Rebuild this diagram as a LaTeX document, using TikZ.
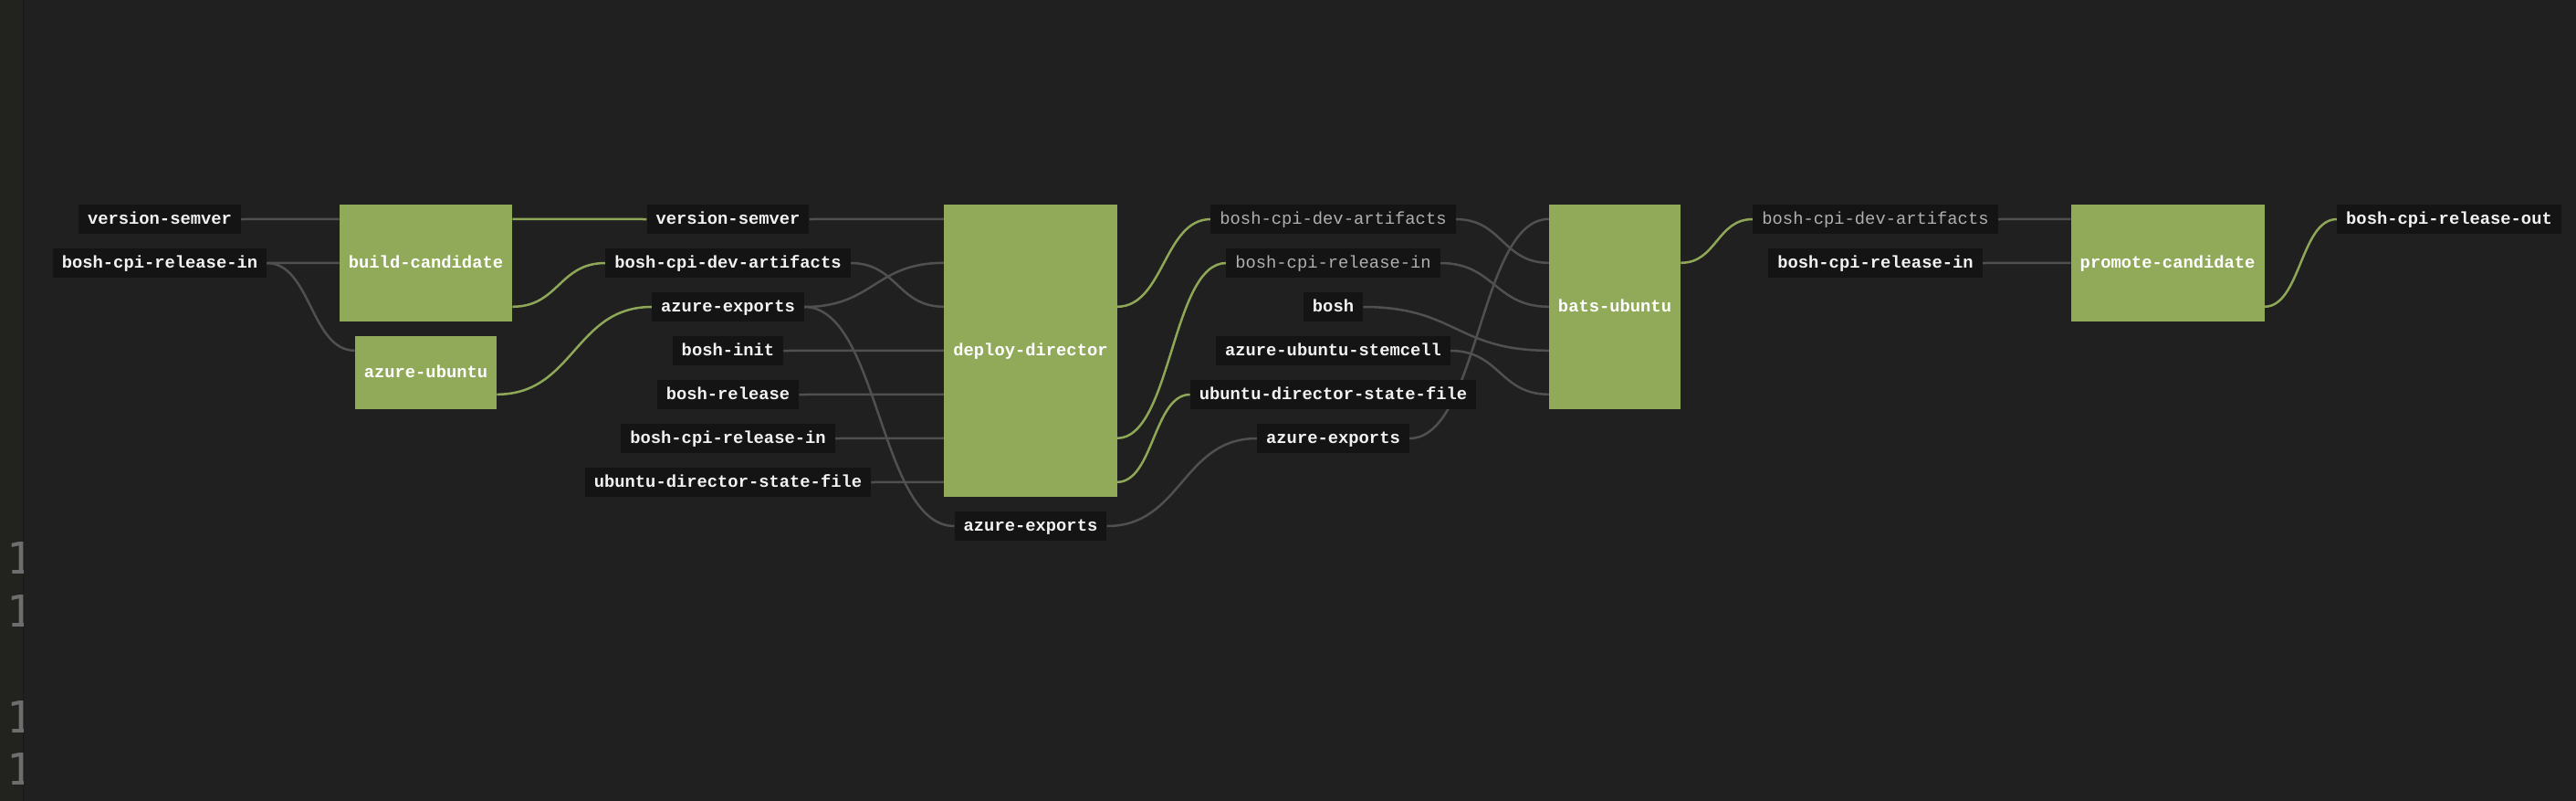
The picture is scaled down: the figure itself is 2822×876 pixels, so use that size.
\documentclass[tikz,border=0pt]{standalone}
\usepackage{fontspec}
\newfontfamily\lmono{Liberation Mono}
\newfontfamily\djmono{DejaVu Sans Mono}
\usetikzlibrary{backgrounds,calc}
\definecolor{bg}{HTML}{202020}
\definecolor{side}{HTML}{22221E}
\definecolor{sideline}{HTML}{1A1A18}
\definecolor{lblfill}{HTML}{141414}
\definecolor{jobfill}{HTML}{91AA5A}
\definecolor{greenline}{HTML}{8FA858}
\definecolor{grayline}{HTML}{505050}
\definecolor{graytext}{HTML}{B0B0B0}
\definecolor{labeltext}{HTML}{F2F2F2}
\definecolor{numcol}{HTML}{6E6E6E}
\newcommand\flow[3]{\draw[#1] let \p1=#2, \p2=#3, \n1={(\x2-\x1)/2} in (\p1) .. controls +(\n1,0) and +(-\n1,0) .. (\p2);}
\begin{document}
\begin{tikzpicture}[x=1pt,y=-1pt,
  res/.style={fill=lblfill, text=labeltext, font=\lmono\bfseries\fontsize{18.8}{20}\selectfont,
    inner xsep=10pt, inner ysep=0pt, minimum height=32pt, text height=10pt, text depth=0pt},
  resdim/.style={res, text=graytext, font=\lmono\fontsize{18.8}{20}\selectfont},
  job/.style={fill=jobfill, text=white, font=\lmono\bfseries\fontsize{18.8}{20}\selectfont,
    inner xsep=10pt, inner ysep=0pt, text height=10pt, text depth=0pt},
  num/.style={text=numcol, font=\djmono\fontsize{48}{50}\selectfont, inner sep=0pt, anchor=base west},
  gedge/.style={draw=grayline, line width=2.5pt},
  oedge/.style={draw=greenline, line width=2.5pt},
]
\useasboundingbox (0,0) rectangle (2822,876);

% jobs
\node[job, minimum height=128pt] (build) at (466.5,288) {build-candidate};
\node[job, minimum height=80pt] (au) at (466.5,408) {azure-ubuntu};
\node[job, minimum height=320pt] (dd) at (1129,384) {deploy-director};
\node[job, minimum height=224pt] (bats) at (1769,336) {bats-ubuntu};
\node[job, minimum height=128pt] (pc) at (2374.6,288) {promote-candidate};

% resources column 1
\node[res] (l1vs) at (175,240) {version-semver};
\node[res] (l1rel) at (175,288) {bosh-cpi-release-in};
% column 2
\node[res] (mvs) at (797.5,240) {version-semver};
\node[res] (mdev) at (797.5,288) {bosh-cpi-dev-artifacts};
\node[res] (mae) at (797.5,336) {azure-exports};
\node[res] (minit) at (797.5,384) {bosh-init};
\node[res] (mbrel) at (797.5,432) {bosh-release};
\node[res] (mrel) at (797.5,480) {bosh-cpi-release-in};
\node[res] (mudsf) at (797.5,528) {ubuntu-director-state-file};
\node[res] (bae) at (1129,576) {azure-exports};
% column 4
\node[resdim] (cdev) at (1460.5,240) {bosh-cpi-dev-artifacts};
\node[resdim] (crel) at (1460.5,288) {bosh-cpi-release-in};
\node[res] (cbosh) at (1460.5,336) {bosh};
\node[res] (cstem) at (1460.5,384) {azure-ubuntu-stemcell};
\node[res] (cudsf) at (1460.5,432) {ubuntu-director-state-file};
\node[res] (cae) at (1460.5,480) {azure-exports};
% column 6
\node[resdim] (sdev) at (2054.5,240) {bosh-cpi-dev-artifacts};
\node[res] (srel) at (2054.5,288) {bosh-cpi-release-in};
% column 7
\node[res] (out) at (2683,240) {bosh-cpi-release-out};

\begin{scope}[on background layer]
\fill[bg] (-10,-10) rectangle (2832,886);
\fill[side] (-10,-10) rectangle (25,886);
\draw[sideline, line width=1pt] (25.5,-10) -- (25.5,886);
\begin{scope}
\clip (0,0) rectangle (25.5,876);
\node[num] (n1) at (7.3,628) {1};
\node[num] (n2) at (7.3,686) {1};
\node[num] (n3) at (7.3,802) {1};
\node[num] (n4) at (7.3,859) {1};
\end{scope}
% edges
\flow{gedge}{(l1vs.east)}{([yshift=-16pt]build.north west)}
\flow{gedge}{(l1rel.east)}{([yshift=-64pt]build.north west)}
\flow{gedge}{(l1rel.east)}{([yshift=-16pt]au.north west)}
\flow{oedge}{([yshift=-16pt]build.north east)}{(mvs.west)}
\flow{oedge}{([yshift=-112pt]build.north east)}{(mdev.west)}
\flow{oedge}{([yshift=-64pt]au.north east)}{(mae.west)}
\flow{gedge}{(mvs.east)}{([yshift=-16pt]dd.north west)}
\flow{gedge}{(mdev.east)}{([yshift=-112pt]dd.north west)}
\flow{gedge}{(mae.east)}{([yshift=-64pt]dd.north west)}
\flow{gedge}{(mae.east)}{(bae.west)}
\flow{gedge}{(minit.east)}{([yshift=-160pt]dd.north west)}
\flow{gedge}{(mbrel.east)}{([yshift=-208pt]dd.north west)}
\flow{gedge}{(mrel.east)}{([yshift=-256pt]dd.north west)}
\flow{gedge}{(mudsf.east)}{([yshift=-304pt]dd.north west)}
\flow{oedge}{([yshift=-112pt]dd.north east)}{(cdev.west)}
\flow{oedge}{([yshift=-256pt]dd.north east)}{(crel.west)}
\flow{oedge}{([yshift=-304pt]dd.north east)}{(cudsf.west)}
\flow{gedge}{(bae.east)}{(cae.west)}
\flow{gedge}{(cdev.east)}{([yshift=-64pt]bats.north west)}
\flow{gedge}{(crel.east)}{([yshift=-112pt]bats.north west)}
\flow{gedge}{(cbosh.east)}{([yshift=-160pt]bats.north west)}
\flow{gedge}{(cstem.east)}{([yshift=-208pt]bats.north west)}
\flow{gedge}{(cae.east)}{([yshift=-16pt]bats.north west)}
\flow{oedge}{([yshift=-64pt]bats.north east)}{(sdev.west)}
\flow{gedge}{(sdev.east)}{([yshift=-16pt]pc.north west)}
\flow{gedge}{(srel.east)}{([yshift=-64pt]pc.north west)}
\flow{oedge}{([yshift=-112pt]pc.north east)}{(out.west)}
\end{scope}
\end{tikzpicture}
\end{document}
